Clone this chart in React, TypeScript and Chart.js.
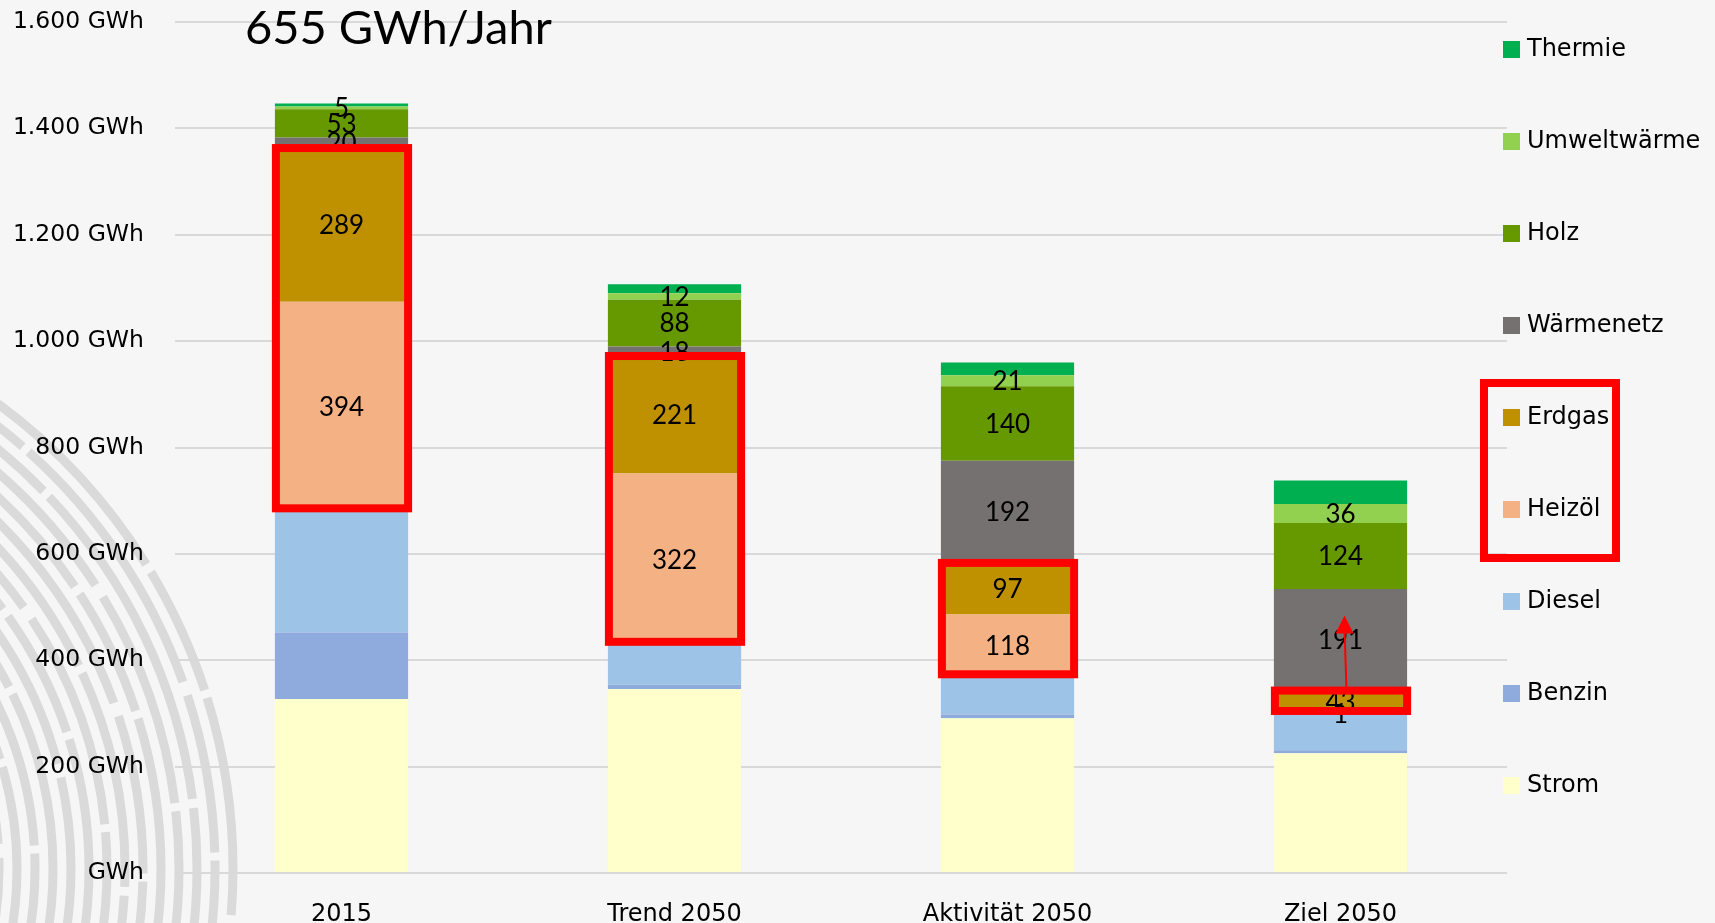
import { useEffect, useRef } from "react";
import { Chart, registerables } from "chart.js";

Chart.register(...registerables);

const categories = ["2015", "Trend 2050", "Aktivität 2050", "Ziel 2050"];
const seriesNames = ["Strom", "Benzin", "Diesel", "Heizöl", "Erdgas", "Wärmenetz", "Holz", "Umweltwärme", "Thermie"];
const strom = [327, 346, 291, 225];
const benzin = [125, 8, 7, 6];
const diesel = [228, 75, 70, 68];
const heizoel = [394, 322, 118, 1];
const erdgas = [289, 221, 97, 43];
const waermenetz = [20, 18, 192, 191];
const holz = [53, 88, 140, 124];
const umweltwaerme = [5, 12, 21, 36];
const thermie = [6, 17, 24, 44];
const seriesColors = ["#ffffcc", "#8faadc", "#9dc3e6", "#f4b183", "#bf9000", "#767171", "#669900", "#92d050", "#00b050"];
const labeledSeries = ["Umweltwärme", "Holz", "Wärmenetz", "Erdgas", "Heizöl"];
const highlightSeries = ["Erdgas", "Heizöl"];
const yTickLabels = ["GWh", "200 GWh", "400 GWh", "600 GWh", "800 GWh", "1.000 GWh", "1.200 GWh", "1.400 GWh", "1.600 GWh"];
const chartTitle = "655 GWh/Jahr";
const arrowCategory = "Ziel 2050";

const seriesValues = [strom, benzin, diesel, heizoel, erdgas, waermenetz, holz, umweltwaerme, thermie];

const FONT = "'DejaVu Sans', 'Open Sans', sans-serif";
const LABEL_FONT = "Lato, 'Open Sans', sans-serif";
const CANVAS_H = 940;

const backgroundPlugin = {
  id: "bgFingerprint",
  beforeDraw(chart: any) {
    const { ctx, width, height } = chart;
    ctx.save();
    ctx.fillStyle = "#f6f6f6";
    ctx.fillRect(0, 0, width, height);
    ctx.beginPath();
    ctx.rect(0, 0, 260, height);
    ctx.clip();
    ctx.strokeStyle = "#dadada";
    ctx.lineWidth = 9;
    let k = 0;
    for (let r = 578; r >= 340; r -= 18) {
      ctx.setLineDash([220 + (k % 3) * 60, 9 + (k % 2) * 5, 130 + (k % 4) * 30, 8]);
      ctx.lineDashOffset = k * 53;
      ctx.beginPath();
      ctx.arc(-345, 869, r, -Math.PI / 2, 0.2);
      ctx.stroke();
      k++;
    }
    ctx.restore();
  },
};

function segmentBounds(chart: any, dsIndex: number, i: number) {
  const el = chart.getDatasetMeta(dsIndex).data[i];
  const top = Math.min(el.y, el.base);
  const bottom = Math.max(el.y, el.base);
  return { x: el.x, w: el.width, top, bottom };
}

const overlayPlugin = {
  id: "overlay",
  afterDatasetsDraw(chart: any) {
    const { ctx } = chart;
    ctx.save();
    // value labels
    ctx.font = `26px ${LABEL_FONT}`;
    ctx.fillStyle = "#000";
    ctx.textAlign = "center";
    ctx.textBaseline = "middle";
    chart.data.datasets.forEach((ds: any, di: number) => {
      if (!labeledSeries.includes(ds.label)) return;
      ds.data.forEach((v: number, i: number) => {
        const b = segmentBounds(chart, di, i);
        ctx.fillText(String(v), b.x, (b.top + b.bottom) / 2 + 1);
      });
    });
    // red highlight boxes
    const idx = highlightSeries.map((n) => seriesNames.indexOf(n));
    ctx.strokeStyle = "#ff0000";
    ctx.lineWidth = 8;
    categories.forEach((_, i) => {
      let top = Infinity;
      let bottom = -Infinity;
      let left = 0;
      let right = 0;
      idx.forEach((di) => {
        const b = segmentBounds(chart, di, i);
        top = Math.min(top, b.top);
        bottom = Math.max(bottom, b.bottom);
        left = b.x - b.w / 2;
        right = b.x + b.w / 2;
      });
      const oL = left - 3, oR = right + 4, oT = top - 4, oB = bottom + 1;
      ctx.strokeRect(oL + 4, oT + 4, oR - oL - 8, oB - oT - 8);
    });
    // arrow
    const ai = categories.indexOf(arrowCategory);
    const eb = segmentBounds(chart, seriesNames.indexOf("Erdgas"), ai);
    const ax = eb.x + 5;
    const y0 = eb.top;
    const tip = y0 - 75;
    ctx.strokeStyle = "#ff0000";
    ctx.lineWidth = 2;
    ctx.beginPath();
    ctx.moveTo(ax + 1, y0);
    ctx.lineTo(ax - 1, tip + 12);
    ctx.stroke();
    ctx.fillStyle = "#ff0000";
    ctx.beginPath();
    ctx.moveTo(ax - 1, tip);
    ctx.lineTo(ax - 10, tip + 18);
    ctx.lineTo(ax + 8, tip + 18);
    ctx.closePath();
    ctx.fill();
    ctx.restore();
  },
  afterDraw(chart: any) {
    const { ctx, chartArea } = chart;
    ctx.save();
    // title
    ctx.font = `47px Lato, ${FONT}`;
    ctx.fillStyle = "#000";
    ctx.textAlign = "left";
    ctx.textBaseline = "alphabetic";
    ctx.fillText(chartTitle, 245, 44);
    // legend
    const sqX = chartArea.right - 4;
    const startY = chartArea.top + 27;
    const step = 92;
    const items = chart.data.datasets.slice().reverse();
    ctx.font = `24px ${FONT}`;
    ctx.textBaseline = "middle";
    const positions: Record<string, number> = {};
    items.forEach((ds: any, k: number) => {
      const y = startY + k * step;
      positions[ds.label] = y;
      ctx.fillStyle = ds.backgroundColor;
      ctx.fillRect(sqX, y - 8, 17, 17);
      ctx.fillStyle = "#000";
      ctx.fillText(ds.label, sqX + 24, y + 1);
    });
    const hy = highlightSeries.map((n) => positions[n]);
    const t = Math.min(...hy) - 38;
    const b = Math.max(...hy) + 53;
    ctx.strokeStyle = "#ff0000";
    ctx.lineWidth = 8;
    ctx.strokeRect(sqX - 23 + 4, t + 4, 140 - 8, b - t - 8);
    ctx.restore();
  },
};

export default function App() {
  const ref = useRef<HTMLCanvasElement | null>(null);
  useEffect(() => {
    document.body.style.margin = "0";
    document.body.style.overflow = "hidden";
    if (!ref.current) return;
    const chart = new Chart(ref.current, {
      type: "bar",
      data: {
        labels: categories,
        datasets: seriesNames.map((name, i) => ({
          label: name,
          data: seriesValues[i],
          backgroundColor: seriesColors[i],
          borderWidth: 0,
          barPercentage: 0.4,
          categoryPercentage: 1,
        })),
      },
      options: {
        animation: false,
        responsive: true,
        maintainAspectRatio: false,
        layout: { padding: { top: 22, right: 208, left: 0, bottom: 0 } },
        plugins: { legend: { display: false }, tooltip: { enabled: false }, title: { display: false } },
        scales: {
          x: {
            stacked: true,
            grid: { display: false },
            border: { display: false },
            ticks: { font: { family: FONT, size: 24 }, color: "#000", padding: 19 },
            afterFit: (s: any) => {
              s.height = CANVAS_H - 873;
              s.paddingLeft = 0;
              s.paddingRight = 0;
            },
          },
          y: {
            stacked: true,
            min: 0,
            max: 1600,
            grid: { color: "#d9d9d9", lineWidth: 2, drawTicks: false },
            border: { display: false },
            ticks: {
              stepSize: 200,
              font: { family: FONT, size: 23.5 },
              color: "#000",
              padding: 31,
              callback: (_v: any, i: number) => yTickLabels[i],
            },
            afterFit: (s: any) => {
              s.width = 175;
              s.paddingTop = 0;
              s.paddingBottom = 0;
            },
          },
        },
      },
      plugins: [backgroundPlugin, overlayPlugin],
    });
    return () => chart.destroy();
  }, []);
  return (
    <div style={{ width: "1715px", height: `${CANVAS_H}px`, position: "relative" }}>
      <canvas ref={ref} />
    </div>
  );
}
